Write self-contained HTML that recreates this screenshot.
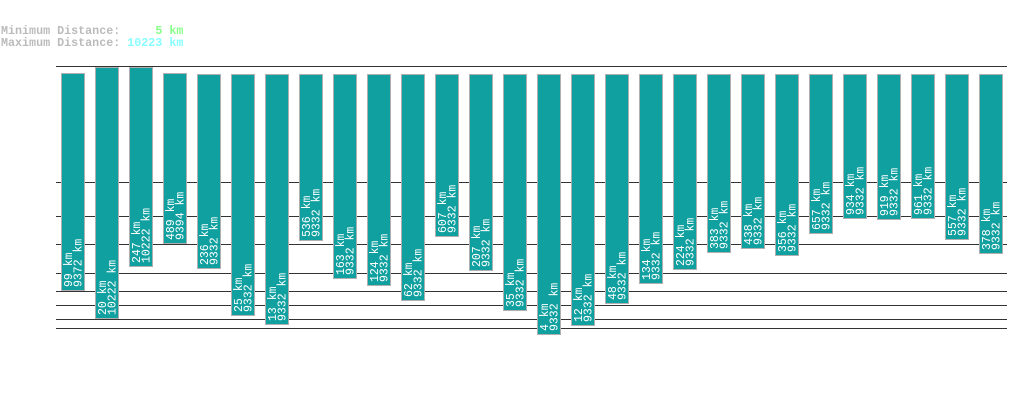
<!DOCTYPE html>
<html><head><style>
body{margin:0;background:#fff;width:1019px;height:402px;position:relative;overflow:hidden;font-family:"Liberation Mono",monospace;}
.hl{position:absolute;left:56px;width:951px;height:1px;background:#333;}
.b{position:absolute;width:22px;background:#11a0a0;border:1px solid #b0b0b0;top:74px;}
.t{position:absolute;writing-mode:vertical-rl;transform:rotate(180deg);color:#fff;font-size:11.5px;line-height:9.5px;white-space:nowrap;width:19px;text-align:left;}
.hd{position:absolute;left:1px;font-size:11.7px;line-height:12px;color:#bbb;white-space:pre;font-weight:bold;}
</style></head><body>
<div class="hd" style="top:25px">Minimum Distance:     <span style="color:#88ff88">5 km</span></div>
<div class="hd" style="top:37px">Maximum Distance: <span style="color:#88ffff">10223 km</span></div>
<div class="hl" style="top:66px"></div>
<div class="hl" style="top:182px"></div>
<div class="hl" style="top:216px"></div>
<div class="hl" style="top:244px"></div>
<div class="hl" style="top:273px"></div>
<div class="hl" style="top:291px"></div>
<div class="hl" style="top:305px"></div>
<div class="hl" style="top:319px"></div>
<div class="hl" style="top:328px"></div>
<div id="c"></div>
<script>
var d=[[73,291,"99 km","9372 km"],[67,319,"20 km","10222 km"],[67,267,"247 km","10222 km"],[73,244,"489 km","9394 km"],[74,269,"236 km","9332 km"],[74,316,"25 km","9332 km"],[74,325,"13 km","9332 km"],[74,241,"536 km","9332 km"],[74,279,"163 km","9332 km"],[74,286,"124 km","9332 km"],[74,301,"62 km","9332 km"],[74,237,"607 km","9332 km"],[74,271,"207 km","9332 km"],[74,311,"35 km","9332 km"],[74,335,"4 km","9332 km"],[74,326,"12 km","9332 km"],[74,304,"48 km","9332 km"],[74,284,"134 km","9332 km"],[74,270,"224 km","9332 km"],[74,253,"383 km","9332 km"],[74,249,"438 km","9332 km"],[74,256,"356 km","9332 km"],[74,234,"657 km","9332 km"],[74,219,"934 km","9332 km"],[74,220,"919 km","9332 km"],[74,219,"961 km","9332 km"],[74,240,"557 km","9332 km"],[74,254,"378 km","9332 km"]];
var h="";
d.forEach(function(r,i){var x=61+34*i;
h+='<div class="b" style="left:'+x+'px;top:'+r[0]+'px;height:'+(r[1]-r[0]-2)+'px"></div>';
h+='<div class="t" style="left:'+(x+4)+'px;top:'+(r[0]+4)+'px;height:'+(r[1]-r[0]-8)+'px">'+r[2]+'<br>'+r[3]+'</div>';});
document.getElementById('c').innerHTML=h;
</script>
</body></html>
